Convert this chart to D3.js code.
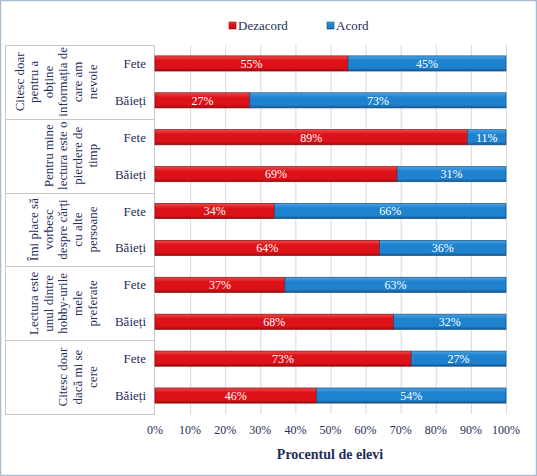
<!DOCTYPE html>
<html><head><meta charset="utf-8">
<script src="https://cdn.jsdelivr.net/npm/d3@7"></script>
<style>body{margin:0;background:#fff}svg{display:block}</style>
</head><body>
<svg id="c" width="537" height="476" font-family="Liberation Serif"></svg>
<script>
const groups = [
  ["Citesc doar","pentru a","obține","informația de","care am","nevoie"],
  ["Pentru mine","lectura este o","pierdere de","timp"],
  ["Îmi place să","vorbesc","despre cărți","cu alte","persoane"],
  ["Lectura este","unul dintre","hobby-urile","mele","preferate"],
  ["Citesc doar","dacă mi se","cere"]
];
const subgroups = ["Fete","Băieți"];
const dezacord = [55,27,89,69,34,64,37,68,73,46];
const acord    = [45,73,11,31,66,36,63,32,27,54];
const seriesNames = ["Dezacord","Acord"];
const ticks = [0,10,20,30,40,50,60,70,80,90,100];
const axisTitle = "Procentul de elevi";

const svg = d3.select("#c");
const W=537,H=476;
svg.append("rect").attr("x",0.5).attr("y",0.5).attr("width",W-1).attr("height",H-1).attr("fill","#fff").attr("stroke","#a8bcd4").attr("stroke-width",1.5);

const pL=155,pR=506,pT=45,pB=414;
const x=d3.scaleLinear().domain([0,100]).range([pL,pR]);
const rows=d3.range(groups.length*subgroups.length);
const y=d3.scaleBand().domain(rows).range([pT,pB]).paddingInner(0.59).paddingOuter(0.295);
const gy=d3.scaleBand().domain(d3.range(groups.length)).range([pT,pB]);

const defs=svg.append("defs");
function grad(id,c1,c2,c3){
  const g=defs.append("linearGradient").attr("id",id).attr("x1",0).attr("y1",0).attr("x2",0).attr("y2",1);
  g.append("stop").attr("offset","0%").attr("stop-color",c1);
  g.append("stop").attr("offset","30%").attr("stop-color",c2);
  g.append("stop").attr("offset","80%").attr("stop-color",c2);
  g.append("stop").attr("offset","100%").attr("stop-color",c3);
}
grad("gr","#f04a4a","#dc1218","#9a0a0e");
grad("gb","#4aa3e6","#1f82cf","#12558f");
const fills=["url(#gr)","url(#gb)"];
const strokes=["#8a0a0c","#16507f"];

function txt(sel){ return sel.append("text").attr("font-family","Liberation Serif").style("font-family","\"Liberation Serif\""); }

svg.append("g").selectAll("line").data(ticks.slice(1)).join("line")
  .attr("x1",d=>x(d)+0.5).attr("x2",d=>x(d)+0.5).attr("y1",pT).attr("y2",pB)
  .attr("stroke","#d9d9d9").attr("stroke-width",1);

const tl=svg.append("g").attr("stroke","#c8c8c8").attr("stroke-width",1);
d3.range(groups.length+1).forEach(i=>{
  const yy=Math.round(i<groups.length?gy(i):pB)+0.5;
  tl.append("line").attr("x1",5).attr("x2",pL).attr("y1",yy).attr("y2",yy);
});
tl.append("line").attr("x1",5.5).attr("x2",5.5).attr("y1",pT).attr("y2",pB);
tl.append("line").attr("x1",pL-0.5).attr("x2",pL-0.5).attr("y1",pT).attr("y2",pB);

groups.forEach((lines,i)=>{
  const cy=gy(i)+gy.bandwidth()/2;
  const n=lines.length;
  lines.forEach((t,j)=>{
    const lx=92-(n-1-j)*14.6;
    txt(svg).attr("transform",`translate(${lx+4.5},${cy}) rotate(-90)`)
      .attr("text-anchor","middle").attr("font-size",13).attr("fill","#1f2d5a").text(t);
  });
});

rows.forEach(r=>{
  const yy=y(r), bh=y.bandwidth();
  txt(svg).attr("x",146).attr("y",yy+bh/2+4.5).attr("text-anchor","end")
    .attr("font-size",13).attr("fill","#1f2d5a").text(subgroups[r%2]);
  const vals=[dezacord[r],acord[r]];
  let acc=0;
  vals.forEach((v,k)=>{
    const x0=x(acc), x1=x(acc+v);
    svg.append("rect").attr("x",x0).attr("y",yy).attr("width",x1-x0).attr("height",bh)
      .attr("fill",fills[k]).attr("stroke",strokes[k]).attr("stroke-width",0.7);
    txt(svg).attr("x",(x0+x1)/2).attr("y",yy+bh/2+4.3).attr("text-anchor","middle")
      .attr("font-size",12).attr("fill","#fff").text(v+"%");
    acc+=v;
  });
});

ticks.forEach(d=>{
  txt(svg).attr("x",x(d)).attr("y",434).attr("text-anchor","middle")
    .attr("font-size",12).attr("fill","#1f2d5a").text(d+"%");
});
txt(svg).attr("x",330).attr("y",459).attr("text-anchor","middle")
  .attr("font-size",14).attr("font-weight","bold").attr("fill","#1f2d5a").text(axisTitle);

const lg=[{x:229,n:0},{x:327,n:1}];
lg.forEach(l=>{
  svg.append("rect").attr("x",l.x).attr("y",22).attr("width",7).attr("height",7)
    .attr("fill",fills[l.n]).attr("stroke",strokes[l.n]).attr("stroke-width",0.6);
  txt(svg).attr("x",l.x+9).attr("y",30).attr("font-size",13).attr("fill","#1f2d5a").text(seriesNames[l.n]);
});
</script>
</body></html>
